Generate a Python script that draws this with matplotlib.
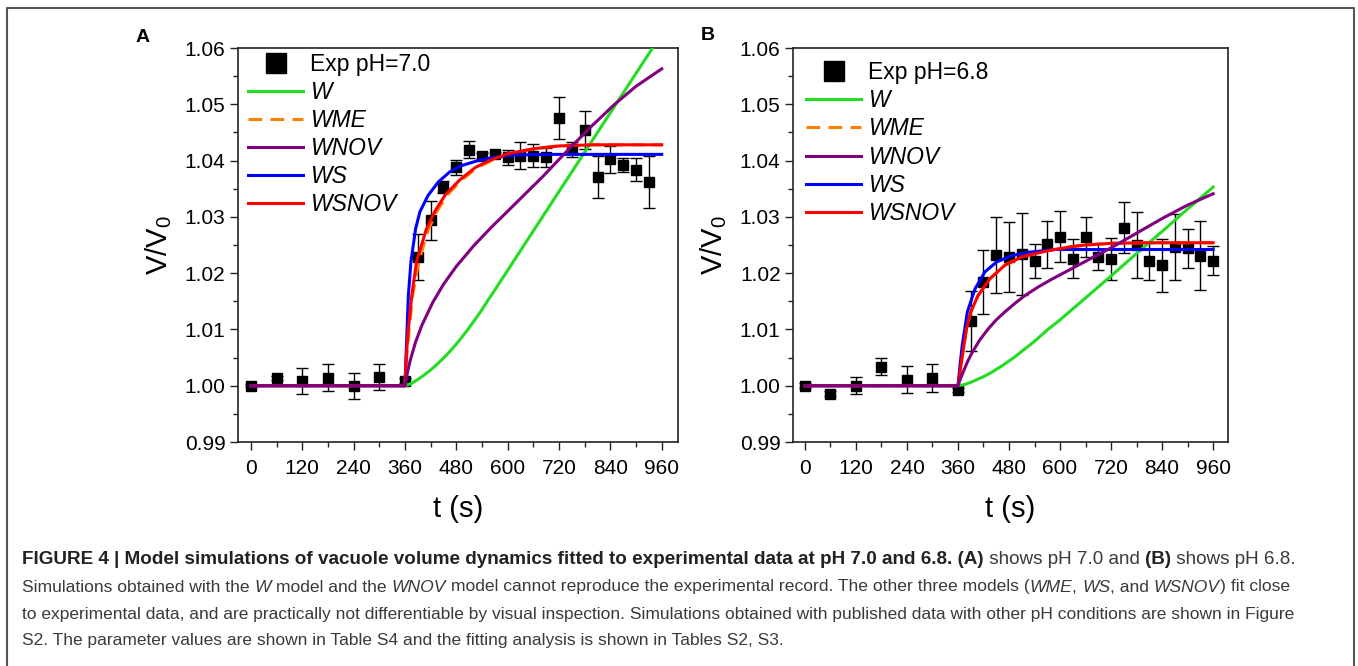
import matplotlib
matplotlib.use('Agg')
import matplotlib.pyplot as plt
from matplotlib.lines import Line2D
from matplotlib.ticker import MultipleLocator, FormatStrFormatter
from matplotlib import font_manager

plt.rcParams['font.family'] = ['Liberation Sans', 'DejaVu Sans']
plt.rcParams['mathtext.fontset'] = 'custom'
plt.rcParams['mathtext.rm'] = 'Liberation Sans'
plt.rcParams['mathtext.it'] = 'Liberation Sans:italic'

# ---- experimental data, panel A (pH 7.0) ----
t_exp_a = [0, 60, 120, 180, 240, 300, 360, 390, 420, 450, 480, 510, 540, 570,
           600, 630, 660, 690, 720, 750, 780, 810, 840, 870, 900, 930]
v_exp_a = [1.0000, 1.0014, 1.0009, 1.0014, 1.0000, 1.0015, 1.0009, 1.0229, 1.0294,
           1.0353, 1.0388, 1.0419, 1.0408, 1.0411, 1.0406, 1.0409, 1.0409, 1.0406,
           1.0476, 1.0420, 1.0454, 1.0371, 1.0402, 1.0392, 1.0384, 1.0362]
e_exp_a = [0.0003, 0.0004, 0.0023, 0.0024, 0.0023, 0.0023, 0.0004, 0.0041, 0.0035,
           0.0011, 0.0013, 0.0015, 0.0005, 0.0005, 0.0013, 0.0024, 0.0021, 0.0017,
           0.0037, 0.0013, 0.0034, 0.0038, 0.0024, 0.0012, 0.0021, 0.0046]

# ---- experimental data, panel B (pH 6.8) ----
t_exp_b = [0, 60, 120, 180, 240, 300, 360, 390, 420, 450, 480, 510, 540, 570,
           600, 630, 660, 690, 720, 750, 780, 810, 840, 870, 900, 930, 960]
v_exp_b = [1.0000, 0.9986, 1.0000, 1.0034, 1.0011, 1.0014, 0.9992, 1.0115, 1.0184,
           1.0232, 1.0229, 1.0234, 1.0222, 1.0251, 1.0265, 1.0226, 1.0264, 1.0229,
           1.0225, 1.0281, 1.0250, 1.0221, 1.0214, 1.0246, 1.0244, 1.0231, 1.0222]
e_exp_b = [0.0004, 0.0004, 0.0015, 0.0015, 0.0024, 0.0025, 0.0004, 0.0053, 0.0057,
           0.0067, 0.0062, 0.0073, 0.0030, 0.0041, 0.0045, 0.0034, 0.0035, 0.0023,
           0.0038, 0.0046, 0.0058, 0.0033, 0.0047, 0.0059, 0.0034, 0.0061, 0.0026]

# ---- model curves, panel A ----
t_w_a = [0, 360, 375, 390, 405, 420, 435, 450, 465, 480, 495, 510, 525, 540, 555, 570,
         600, 660, 720, 780, 840, 900, 960]
v_w_a = [1.0, 1.0, 1.0004, 1.0011, 1.0019, 1.0028, 1.0038, 1.0049, 1.0061, 1.0074,
         1.0088, 1.0103, 1.0119, 1.0135, 1.0153, 1.0170, 1.0205, 1.0275, 1.0345,
         1.0415, 1.0485, 1.0555, 1.0625]
t_wme_a = [0, 360, 364, 370, 378, 392, 415, 435, 460, 495, 530, 565, 605, 660, 720, 800, 960]
v_wme_a = [1.0, 1.0, 1.0050, 1.0100, 1.0160, 1.0220, 1.0278, 1.0310, 1.0340, 1.0367,
           1.0388, 1.0401, 1.0412, 1.0421, 1.0426, 1.0428, 1.0428]
t_wnov_a = [0, 360, 366, 372, 385, 400, 425, 450, 480, 520, 560, 600, 640, 680, 740,
            800, 850, 900, 960]
v_wnov_a = [1.0, 1.0, 1.0024, 1.0044, 1.0078, 1.0108, 1.0148, 1.0180, 1.0212, 1.0248,
            1.0280, 1.0310, 1.0340, 1.0370, 1.0418, 1.0464, 1.0500, 1.0532, 1.0563]
t_ws_a = [0, 360, 364, 368, 374, 385, 395, 414, 438, 465, 492, 531, 570, 620, 700, 960]
v_ws_a = [1.0, 1.0, 1.0080, 1.0160, 1.0220, 1.0279, 1.0309, 1.0338, 1.0362, 1.0380,
          1.0391, 1.0400, 1.0406, 1.0410, 1.0411, 1.0411]
t_wsnov_a = [0, 360, 363, 368, 376, 387, 410, 430, 455, 490, 525, 560, 600, 660, 720, 800, 960]
v_wsnov_a = [1.0, 1.0, 1.0050, 1.0100, 1.0160, 1.0220, 1.0278, 1.0310, 1.0340, 1.0367,
             1.0388, 1.0401, 1.0412, 1.0421, 1.0426, 1.0428, 1.0428]

# ---- model curves, panel B ----
t_w_b = [0, 360, 375, 390, 405, 420, 435, 450, 465, 480, 495, 510, 525, 540, 555, 570,
         600, 660, 720, 780, 840, 900, 960]
v_w_b = [1.0, 1.0, 1.0002, 1.0006, 1.0011, 1.0016, 1.0022, 1.0029, 1.0036, 1.0044,
         1.0052, 1.0061, 1.0070, 1.0079, 1.0089, 1.0099, 1.0117, 1.0156, 1.0195,
         1.0235, 1.0274, 1.0314, 1.0353]
t_wme_b = [0, 360, 364, 368, 380, 390, 407, 435, 470, 510, 572, 627, 660, 720, 800, 960]
v_wme_b = [1.0, 1.0, 1.0020, 1.0042, 1.0101, 1.0131, 1.0160, 1.0190, 1.0214, 1.0229,
           1.0240, 1.0247, 1.0250, 1.0253, 1.0254, 1.0254]
t_wnov_b = [0, 360, 366, 372, 382, 392, 410, 431, 450, 470, 495, 517, 550, 580, 620,
            660, 720, 780, 840, 900, 960]
v_wnov_b = [1.0, 1.0, 1.0013, 1.0024, 1.0042, 1.0057, 1.0080, 1.0101, 1.0117, 1.0131,
            1.0147, 1.0160, 1.0176, 1.0189, 1.0205, 1.0221, 1.0245, 1.0271, 1.0297,
            1.0321, 1.0341]
t_ws_b = [0, 360, 365, 370, 382, 400, 423, 451, 486, 525, 588, 960]
v_ws_b = [1.0, 1.0, 1.0038, 1.0072, 1.0131, 1.0172, 1.0202, 1.0220, 1.0231, 1.0237,
          1.0242, 1.0242]
t_wsnov_b = [0, 360, 364, 368, 380, 390, 407, 435, 470, 510, 572, 627, 660, 720, 800, 960]
v_wsnov_b = [1.0, 1.0, 1.0020, 1.0042, 1.0101, 1.0131, 1.0160, 1.0190, 1.0214, 1.0229,
             1.0240, 1.0247, 1.0250, 1.0253, 1.0254, 1.0254]

c_w = '#22dd22'
c_wme = '#ff8000'
c_wnov = '#800080'
c_ws = '#0000ff'
c_wsnov = '#ff0000'
dash_wme = (0, (4.5, 2.7))

W, H = 1358, 666
fig = plt.figure(figsize=(W / 100, H / 100), dpi=100)

# border of the whole figure (open at the bottom)
fig.add_artist(Line2D([7 / W, 7 / W, 1354 / W, 1354 / W], [0, 1 - 8 / H, 1 - 8 / H, 0],
                      transform=fig.transFigure, color='#555555', lw=1.5))


def panel(rect, letter, letter_xy, t_exp, v_exp, e_exp, curves, exp_label, xlim, leg_xy):
    ax = fig.add_axes(rect)
    ax.errorbar(t_exp, v_exp, yerr=e_exp, fmt='s', color='black', ms=7, lw=1,
                ecolor='black', elinewidth=1, capsize=4, capthick=1, zorder=2)
    handles = {}
    for name, t, v, c, ls in curves:
        ln, = ax.plot(t, v, color=c, lw=2.2, ls=ls, zorder=3)
        handles[name] = ln
    ax.set_xlim(*xlim)
    ax.set_ylim(0.99, 1.06)
    ax.xaxis.set_major_locator(MultipleLocator(120))
    ax.xaxis.set_minor_locator(MultipleLocator(60))
    ax.yaxis.set_major_locator(MultipleLocator(0.01))
    ax.yaxis.set_minor_locator(MultipleLocator(0.005))
    ax.yaxis.set_major_formatter(FormatStrFormatter('%.2f'))
    ax.tick_params(which='both', direction='out', top=False, right=False, labelsize=15,
                   width=1, color='#222222')
    ax.tick_params(which='major', length=6)
    ax.tick_params(which='minor', length=3.5)
    ax.tick_params(axis='x', pad=6)
    ax.tick_params(axis='y', pad=3)
    for s in ax.spines.values():
        s.set_linewidth(1.2)
        s.set_color('#222222')
    ax.set_xlabel('t (s)', fontsize=21)
    ax.set_ylabel(r'V/V$_\mathregular{0}$', fontsize=21)
    ax.xaxis.set_label_coords(0.5, -0.135)
    ax.yaxis.set_label_coords(-0.146, 0.5)
    exp_h = Line2D([], [], marker='s', ls='none', color='black', ms=14)
    order = ['W', 'WME', 'WNOV', 'WS', 'WSNOV']
    leg = ax.legend([exp_h] + [handles[k] for k in order], [exp_label] + order,
                    loc='upper left', bbox_to_anchor=leg_xy, frameon=False,
                    fontsize=16.5, handlelength=2.4, handletextpad=0.3,
                    labelspacing=0.22, borderaxespad=0, borderpad=0)
    for txt in leg.get_texts()[1:]:
        txt.set_fontstyle('italic')
    fig.text(letter_xy[0] / W, 1 - letter_xy[1] / H, letter, fontsize=14,
             fontweight='bold', ha='center', va='center')
    return ax


curves_a = [('W', t_w_a, v_w_a, c_w, '-'),
            ('WME', t_wme_a, v_wme_a, c_wme, dash_wme),
            ('WS', t_ws_a, v_ws_a, c_ws, '-'),
            ('WSNOV', t_wsnov_a, v_wsnov_a, c_wsnov, '-'),
            ('WNOV', t_wnov_a, v_wnov_a, c_wnov, '-')]
curves_b = [('W', t_w_b, v_w_b, c_w, '-'),
            ('WME', t_wme_b, v_wme_b, c_wme, dash_wme),
            ('WS', t_ws_b, v_ws_b, c_ws, '-'),
            ('WSNOV', t_wsnov_b, v_wsnov_b, c_wsnov, '-'),
            ('WNOV', t_wnov_b, v_wnov_b, c_wnov, '-')]

panel([238 / W, 1 - 442 / H, 440 / W, 394 / H], 'A', (143, 37),
      t_exp_a, v_exp_a, e_exp_a, curves_a, 'Exp pH=7.0', (-30, 998), (0.023, 0.987))
panel([793 / W, 1 - 442 / H, 435 / W, 394 / H], 'B', (708, 35),
      t_exp_b, v_exp_b, e_exp_b, curves_b, 'Exp pH=6.8', (-28, 995), (0.031, 0.966))

# ---- caption ----
cap_font = 'Liberation Sans Narrow'
try:
    font_manager.findfont(cap_font, fallback_to_default=False)
except ValueError:
    cap_font = 'Liberation Sans'

cap_lines = [
    [('FIGURE 4 | Model simulations of vacuole volume dynamics fitted to experimental data at pH 7.0 and 6.8. (A)', 'b'),
     (' shows pH 7.0 and ', 'n'), ('(B)', 'b'), (' shows pH 6.8.', 'n')],
    [('Simulations obtained with the ', 'n'), ('W', 'i'), (' model and the ', 'n'), ('WNOV', 'i'),
     (' model cannot reproduce the experimental record. The other three models (', 'n'), ('WME', 'i'),
     (', ', 'n'), ('WS', 'i'), (', and ', 'n'), ('WSNOV', 'i'), (') fit close', 'n')],
    [('to experimental data, and are practically not differentiable by visual inspection. '
      'Simulations obtained with published data with other pH conditions are shown in Figure', 'n')],
    [('S2. The parameter values are shown in Table S4 and the fitting analysis is shown in Tables S2, S3.', 'n')],
]
cap_y = [560, 587, 614, 640]
cap_span = [1267, 1269, 1271, None]

renderer = fig.canvas.get_renderer()


def styled(style):
    if style == 'b':
        return dict(fontweight='bold', color='#222222')
    if style == 'i':
        return dict(fontstyle='italic', color='#3a3a3a')
    return dict(color='#3a3a3a')


def text_width(s, size, style):
    t1 = fig.text(0, 0, s + '|', fontsize=size, family=cap_font, **styled(style))
    t2 = fig.text(0, 0, '|', fontsize=size, family=cap_font, **styled(style))
    w = t1.get_window_extent(renderer).width - t2.get_window_extent(renderer).width
    t1.remove()
    t2.remove()
    return w


# each line is sized to span the same width as in the reference
base = 12.0
size = base
for parts, yy, span in zip(cap_lines, cap_y, cap_span):
    if span is not None:
        size = base * span / sum(text_width(s, base, st) for s, st in parts)
    x = 22.0
    for s, st in parts:
        fig.text(x / W, 1 - yy / H, s, fontsize=size, family=cap_font,
                 ha='left', va='center', **styled(st))
        x += text_width(s, size, st)

fig.savefig('out.png', dpi=100)
